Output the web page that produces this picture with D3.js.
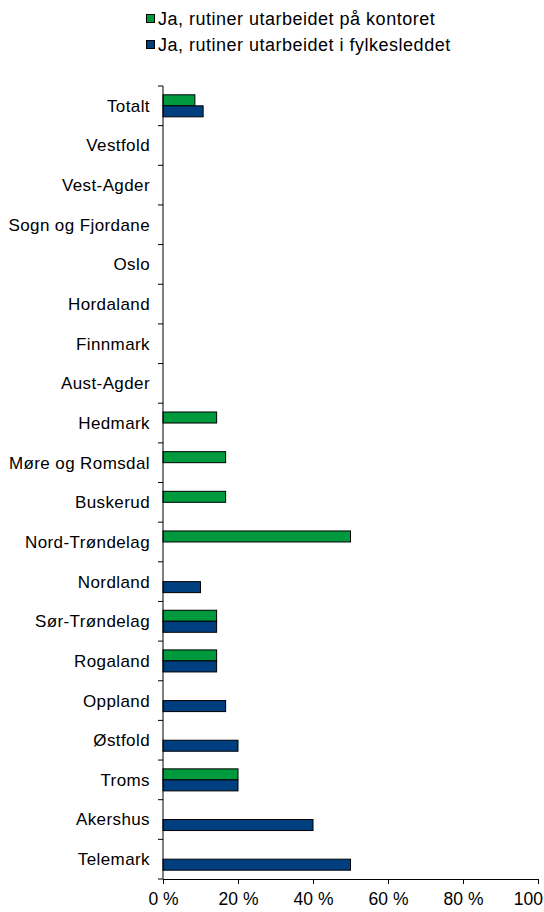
<!DOCTYPE html>
<html>
<head>
<meta charset="utf-8">
<script src="https://cdn.jsdelivr.net/npm/d3@7/dist/d3.min.js"></script>
<style>
  html, body { margin: 0; padding: 0; background: #fff; }
  svg { display: block; font-family: "Liberation Sans", Arial, sans-serif; }
</style>
</head>
<body>
<svg id="chart" width="544" height="912"></svg>
<script>
// Categories listed top to bottom
const categories = ["Totalt", "Vestfold", "Vest-Agder", "Sogn og Fjordane", "Oslo", "Hordaland",
  "Finnmark", "Aust-Agder", "Hedmark", "Møre og Romsdal", "Buskerud", "Nord-Trøndelag",
  "Nordland", "Sør-Trøndelag", "Rogaland", "Oppland", "Østfold", "Troms", "Akershus", "Telemark"];

// Percent values per series (0 = no bar)
const kontoret = [8.5, 0, 0, 0, 0, 0, 0, 0, 14.3, 16.7, 16.7, 50, 0, 14.3, 14.3, 0, 0, 20, 0, 0];
const fylkesleddet = [10.7, 0, 0, 0, 0, 0, 0, 0, 0, 0, 0, 0, 10, 14.3, 14.3, 16.7, 20, 20, 40, 50];

const seriesNames = ["Ja, rutiner utarbeidet på kontoret", "Ja, rutiner utarbeidet i fylkesleddet"];
const seriesColors = ["#009a3e", "#003f7f"];
const xTicks = [0, 20, 40, 60, 80, 100];

const svg = d3.select("#chart");
const plotLeft = 163, plotRight = 538, plotTop = 86, plotBottom = 879;

const x = d3.scaleLinear().domain([0, 100]).range([plotLeft, plotRight]);
const y = d3.scaleBand().domain(categories).range([plotTop, plotBottom]);
const inner = d3.scaleBand().domain([0, 1]).range([0, y.bandwidth()]).paddingOuter(0.8).paddingInner(0);

// Bars
const seriesData = [kontoret, fylkesleddet];
seriesData.forEach((vals, si) => {
  svg.append("g").selectAll("rect")
    .data(categories.map((c, i) => ({ c, v: vals[i] })).filter(d => d.v > 0))
    .join("rect")
    .attr("x", x(0))
    .attr("y", d => y(d.c) + inner(si))
    .attr("width", d => x(d.v) - x(0))
    .attr("height", inner.bandwidth())
    .attr("fill", seriesColors[si])
    .attr("stroke", "#000")
    .attr("stroke-width", 1);
});

// Y axis: line, ticks at band edges, labels
const gy = svg.append("g");
gy.append("line").attr("x1", plotLeft).attr("x2", plotLeft).attr("y1", plotTop).attr("y2", plotBottom)
  .attr("stroke", "#000");
const edges = categories.map(c => y(c)).concat([plotBottom]);
gy.selectAll("line.tk").data(edges).join("line").attr("class", "tk")
  .attr("x1", plotLeft - 5).attr("x2", plotLeft).attr("y1", d => d).attr("y2", d => d)
  .attr("stroke", "#000");
gy.selectAll("text").data(categories).join("text")
  .attr("x", 150)
  .attr("y", d => y(d) + y.bandwidth() / 2)
  .attr("dy", "0.35em")
  .attr("text-anchor", "end")
  .attr("font-size", 17)
  .attr("letter-spacing", 0.4)
  .attr("fill", "#000")
  .text(d => d);

// X axis
const gx = svg.append("g").attr("transform", `translate(0,${plotBottom})`)
  .call(d3.axisBottom(x).tickValues(xTicks).tickSize(5).tickSizeOuter(0).tickPadding(9)
    .tickFormat(d => d + " %"));
gx.select(".domain").attr("stroke", "#000");
gx.selectAll(".tick line").attr("stroke", "#000");
gx.selectAll("text").attr("font-size", 17.5).attr("fill", "#000")
  .attr("font-family", "Liberation Sans, Arial, sans-serif");

// Legend
const legend = svg.append("g");
seriesNames.forEach((name, i) => {
  const ly = 19 + i * 26;
  legend.append("rect").attr("x", 146.5).attr("y", ly - 4.5).attr("width", 8).attr("height", 8)
    .attr("fill", seriesColors[i]).attr("stroke", "#000");
  legend.append("text").attr("x", 158).attr("y", ly).attr("dy", "0.35em")
    .attr("font-size", 18).attr("letter-spacing", 0.5).attr("fill", "#000").text(name);
});
</script>
</body>
</html>
